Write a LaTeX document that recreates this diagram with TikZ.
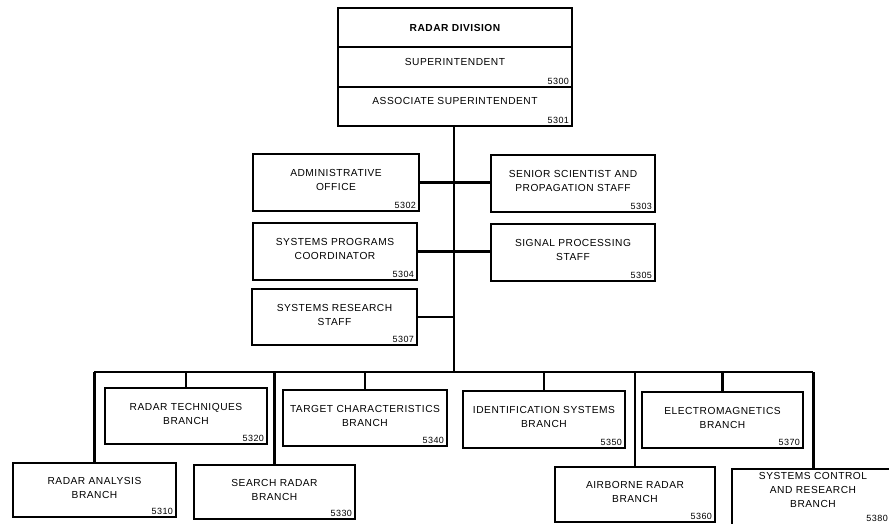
\documentclass[tikz,border=0pt]{standalone}
\usepackage{fontspec}
\setmainfont{Liberation Sans}
\newfontfamily\boxfont{Liberation Sans}[LetterSpace=5]
\tikzset{
  obox/.style={draw, line width=1.4pt, inner sep=0pt, fill=white},
  otxt/.style={font=\boxfont\fontsize{10.2}{14}\selectfont, align=center, inner sep=0pt},
  onum/.style={font=\boxfont\fontsize{9}{10}\selectfont, inner xsep=3.5pt, inner ysep=2.5pt},
  conn/.style={line width=2.4pt},
}
% name, x1, y1, x2, y2, text, number
\newcommand\orgbox[7]{%
  \node[obox, minimum width={(#4)-(#2)}, minimum height={(#5)-(#3)}] (#1) at ({((#2)+(#4))/2},{((#3)+(#5))/2}) {};
  \node[otxt] (#1-t) at ([yshift=2.5pt]#1.center) {#6};
  \node[onum, anchor=south east] (#1-n) at (#1.south east) {#7};
}
\begin{document}
\begin{tikzpicture}[x=1pt,y=-1pt]
\useasboundingbox (0,0) rectangle (889,523);
% connectors first (boxes drawn on top)
\coordinate (busL) at (95,372);
\coordinate (busR) at (812,372);
\coordinate (trunkTop) at (454,126);
\coordinate (trunkBot) at (454,372);
\coordinate (srsJ) at (454,317);
\draw[conn] (trunkTop) -- (trunkBot);
\draw[conn, line cap=rect] (busL) -- (busR);
% top box
\node[obox, minimum width=234pt, minimum height=39pt] (div) at (455,27.5) {};
\node[otxt, font=\boxfont\fontsize{10.2}{14}\selectfont\bfseries] (div-t) at (div.center) {RADAR DIVISION};
\node[obox, minimum width=234pt, minimum height=40pt] (sup) at (455,67) {};
\node[otxt] (sup-t) at ([yshift=5pt]sup.center) {SUPERINTENDENT};
\node[onum, anchor=south east] (sup-n) at (sup.south east) {5300};
\node[obox, minimum width=234pt, minimum height=39pt] (asup) at (455,106.5) {};
\node[otxt] (asup-t) at ([yshift=6pt]asup.center) {ASSOCIATE SUPERINTENDENT};
\node[onum, anchor=south east] (asup-n) at (asup.south east) {5301};
% staff
\orgbox{adm}{253}{154}{419}{211}{ADMINISTRATIVE\\OFFICE}{5302}
\orgbox{sen}{491}{155}{655}{212}{SENIOR SCIENTIST AND\\PROPAGATION STAFF}{5303}
\orgbox{spc}{253}{223}{417}{280}{SYSTEMS PROGRAMS\\COORDINATOR}{5304}
\orgbox{sps}{491}{224}{655}{281}{SIGNAL PROCESSING\\STAFF}{5305}
\orgbox{srs}{252}{289}{417}{345}{SYSTEMS RESEARCH\\STAFF}{5307}
\draw[conn] (adm.east) -- (adm.east -| sen.west);
\draw[conn] (spc.east) -- (spc.east -| sps.west);
\draw[conn] (srs.east) -- (srsJ);
% branches
\orgbox{rab}{13}{463}{176}{517}{RADAR ANALYSIS\\BRANCH}{5310}
\orgbox{rtb}{105}{388}{267}{444}{RADAR TECHNIQUES\\BRANCH}{5320}
\orgbox{srb}{194}{465}{355}{519}{SEARCH RADAR\\BRANCH}{5330}
\orgbox{tcb}{283}{390}{447}{446}{TARGET CHARACTERISTICS\\BRANCH}{5340}
\orgbox{isb}{463}{391}{625}{448}{IDENTIFICATION SYSTEMS\\BRANCH}{5350}
\orgbox{arb}{555}{467}{715}{522}{AIRBORNE RADAR\\BRANCH}{5360}
\orgbox{emb}{642}{392}{803}{448}{ELECTROMAGNETICS\\BRANCH}{5370}
\node[obox, minimum width=163pt, minimum height=66pt] (scb) at (813.5,502) {};
\node[otxt] (scb-t) at (813,490) {SYSTEMS CONTROL\\AND RESEARCH\\BRANCH};
\node[onum, anchor=south east, inner xsep=1pt, inner ysep=1pt] (scb-n) at (889,523) {5380};
% drops from bus
\draw[conn] (rab.north) -- (rab.north |- busL);
\draw[conn] (rtb.north) -- (rtb.north |- busL);
\draw[conn] (srb.north) -- (srb.north |- busL);
\draw[conn] (tcb.north) -- (tcb.north |- busL);
\draw[conn] (isb.north) -- (isb.north |- busL);
\draw[conn] (arb.north) -- (arb.north |- busL);
\draw[conn] (emb.north) -- (emb.north |- busL);
\draw[conn] (scb.north) -- (scb.north |- busL);
\end{tikzpicture}
\end{document}
